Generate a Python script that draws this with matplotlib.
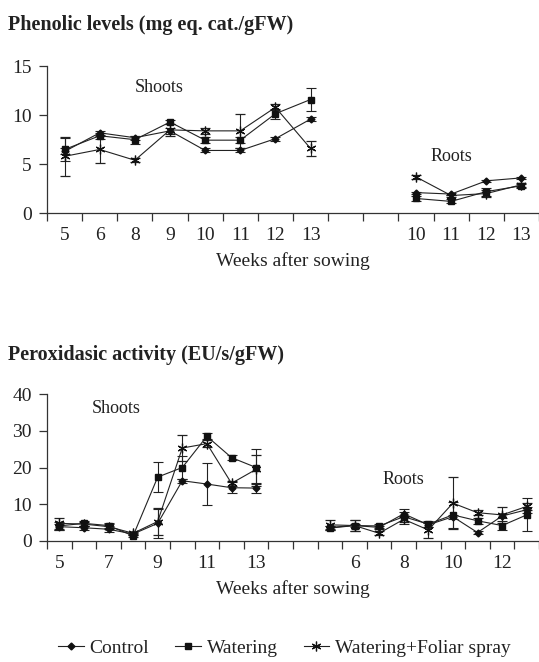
import matplotlib
matplotlib.use("Agg")
import matplotlib.pyplot as plt
from matplotlib.lines import Line2D
import numpy as np

plt.rcParams["font.family"] = ["Liberation Serif", "DejaVu Serif"]

# ---- Phenolic levels (top) ----
phen_labels = ["5", "6", "8", "9", "10", "11", "12", "13", "", "", "10", "11", "12", "13"]
phen_shoot_idx = [0, 1, 2, 3, 4, 5, 6, 7]
phen_root_idx = [10, 11, 12, 13]

phen_control_shoot = [6.3, 8.2, 7.7, 8.4, 6.4, 6.4, 7.6, 9.6]
phen_control_shoot_err = [0.3, 0.2, 0.2, 0.3, 0.2, 0.2, 0.2, 0.2]
phen_water_shoot = [6.5, 7.9, 7.5, 9.3, 7.45, 7.45, 10.15, 11.6]
phen_water_shoot_err = [1.2, 0.3, 0.4, 0.2, 0.3, 0.3, 0.5, 1.2]
phen_spray_shoot = [5.8, 6.5, 5.4, 8.5, 8.4, 8.4, 10.8, 6.6]
phen_spray_shoot_err = [2.0, 1.4, 0.2, 0.6, 0.3, 1.7, 0.3, 0.8]

phen_control_root = [2.1, 1.95, 3.3, 3.6]
phen_control_root_err = [0.1, 0.1, 0.1, 0.1]
phen_water_root = [1.5, 1.2, 2.2, 2.8]
phen_water_root_err = [0.3, 0.2, 0.4, 0.2]
phen_spray_root = [3.7, 1.8, 2.0, 2.9]
phen_spray_root_err = [0.2, 0.1, 0.4, 0.2]

# ---- Peroxidasic activity (bottom) ----
perox_labels = ["5", "", "7", "", "9", "", "11", "", "13", "", "",
                "", "6", "", "8", "", "10", "", "12", ""]
perox_shoot_idx = [0, 1, 2, 3, 4, 5, 6, 7, 8]
perox_root_idx = [11, 12, 13, 14, 15, 16, 17, 18, 19]

perox_control_shoot = [3.9, 3.6, 3.2, 1.9, 4.8, 16.4, 15.5, 14.5, 14.4]
perox_control_shoot_err = [0.8, 0.6, 0.8, 0.4, 4.0, 0.5, 5.6, 1.5, 1.3]
perox_water_shoot = [4.1, 4.8, 4.2, 1.4, 17.4, 20.0, 28.5, 22.7, 20.0]
perox_water_shoot_err = [1.0, 0.6, 0.6, 0.4, 4.0, 3.0, 0.8, 0.6, 5.0]
perox_spray_shoot = [4.8, 4.6, 3.9, 2.1, 5.3, 25.3, 26.5, 15.7, 19.5]
perox_spray_shoot_err = [1.5, 0.6, 0.6, 0.4, 3.7, 3.6, 1.0, 0.6, 4.0]

perox_control_root = [3.7, 4.2, 3.7, 7.4, 4.4, 6.6, 2.3, 6.8, 8.5]
perox_control_root_err = [0.5, 0.5, 0.5, 0.6, 0.6, 0.6, 0.3, 0.6, 0.8]
perox_water_root = [3.5, 4.2, 4.1, 6.6, 4.6, 7.1, 5.5, 4.2, 7.1]
perox_water_root_err = [0.6, 1.5, 0.6, 2.0, 0.8, 3.5, 0.8, 1.2, 4.5]
perox_spray_root = [4.4, 4.2, 2.1, 5.9, 3.0, 10.3, 7.7, 7.1, 9.4]
perox_spray_root_err = [1.4, 1.5, 0.5, 0.6, 2.3, 7.0, 0.6, 2.2, 1.0]

series_names = ["Control", "Watering", "Watering+Foliar spray"]
series_style = {
    "Control": dict(marker="D", markersize=3.5),
    "Watering": dict(marker="s", markersize=5),
    "Watering+Foliar spray": dict(marker=(6, 2, 0), markersize=7, markeredgewidth=0.9),
}
ink = "#222222"


def draw_series(ax, idx, values, errs, name):
    ax.errorbar(
        idx, values, yerr=errs,
        color=ink, linewidth=0.8, elinewidth=0.8,
        capsize=3.5, capthick=0.8,
        markerfacecolor="#111111", markeredgecolor="#111111",
        **series_style[name],
    )


def style_axes(ax, labels, ymax, ystep):
    n = len(labels)
    ax.set_xlim(-0.5, n - 0.5)
    ax.set_ylim(0, ymax)
    ax.set_yticks(np.arange(0, ymax + 0.1, ystep))
    # category boundaries as ticks, labels in between
    ax.set_xticks(np.arange(-0.5, n, 1.0))
    ax.set_xticklabels([])
    ax.set_xticks(np.arange(n), minor=True)
    ax.set_xticklabels(labels, minor=True)
    ax.tick_params(axis="x", which="major", direction="out", length=6, width=0.9,
                   color="#333333")
    ax.tick_params(axis="x", which="minor", length=0, pad=10, labelsize=14,
                   labelcolor=ink)
    ax.tick_params(axis="y", direction="out", length=6, width=0.9, pad=5,
                   labelsize=14, color="#333333", labelcolor=ink)
    for side in ["top", "right"]:
        ax.spines[side].set_visible(False)
    for side in ["left", "bottom"]:
        ax.spines[side].set_color("#333333")
        ax.spines[side].set_linewidth(0.9)
    ax.set_xlabel("Weeks after sowing", fontsize=14, color=ink, labelpad=6)
    ax.patch.set_alpha(0)


fig = plt.figure(figsize=(5.39, 6.62), dpi=100, facecolor="white")
ax1 = fig.add_axes([0.0872, 0.678, 0.9128, 0.222])
ax2 = fig.add_axes([0.0872, 0.1828, 0.9128, 0.222])

# top chart
for name, vals, errs in zip(series_names,
                            [phen_control_shoot, phen_water_shoot, phen_spray_shoot],
                            [phen_control_shoot_err, phen_water_shoot_err, phen_spray_shoot_err]):
    draw_series(ax1, phen_shoot_idx, vals, errs, name)
for name, vals, errs in zip(series_names,
                            [phen_control_root, phen_water_root, phen_spray_root],
                            [phen_control_root_err, phen_water_root_err, phen_spray_root_err]):
    draw_series(ax1, phen_root_idx, vals, errs, name)
style_axes(ax1, phen_labels, 15, 5)
ax1.text(2.7, 12.8, "Shoots", fontsize=13, color=ink, ha="center", va="center")
ax1.text(11.0, 5.8, "Roots", fontsize=13, color=ink, ha="center", va="center")

# bottom chart
for name, vals, errs in zip(series_names,
                            [perox_control_shoot, perox_water_shoot, perox_spray_shoot],
                            [perox_control_shoot_err, perox_water_shoot_err, perox_spray_shoot_err]):
    draw_series(ax2, perox_shoot_idx, vals, errs, name)
for name, vals, errs in zip(series_names,
                            [perox_control_root, perox_water_root, perox_spray_root],
                            [perox_control_root_err, perox_water_root_err, perox_spray_root_err]):
    draw_series(ax2, perox_root_idx, vals, errs, name)
style_axes(ax2, perox_labels, 40, 10)
ax2.text(2.3, 36, "Shoots", fontsize=13, color=ink, ha="center", va="center")
ax2.text(14.0, 16.8, "Roots", fontsize=13, color=ink, ha="center", va="center")

fig.text(0.015, 1 - 25 / 662, "Phenolic levels (mg eq. cat./gFW)", fontsize=14.5,
         fontweight="bold", color=ink, ha="left", va="center")
fig.text(0.015, 1 - 355 / 662, "Peroxidasic activity (EU/s/gFW)", fontsize=14.5,
         fontweight="bold", color=ink, ha="left", va="center")

# legend: plain line + marker, no error bars
handles = [Line2D([], [], color=ink, linewidth=0.8,
                  markerfacecolor="#111111", markeredgecolor="#111111",
                  **series_style[name]) for name in series_names]
fig.legend(handles, series_names, loc="center", bbox_to_anchor=(0.528, 1 - 648 / 662),
           ncol=3, frameon=False, fontsize=14, handlelength=1.3,
           handletextpad=0.3, columnspacing=1.35, labelcolor=ink)

fig.savefig("out.png", dpi=100, facecolor="white")
